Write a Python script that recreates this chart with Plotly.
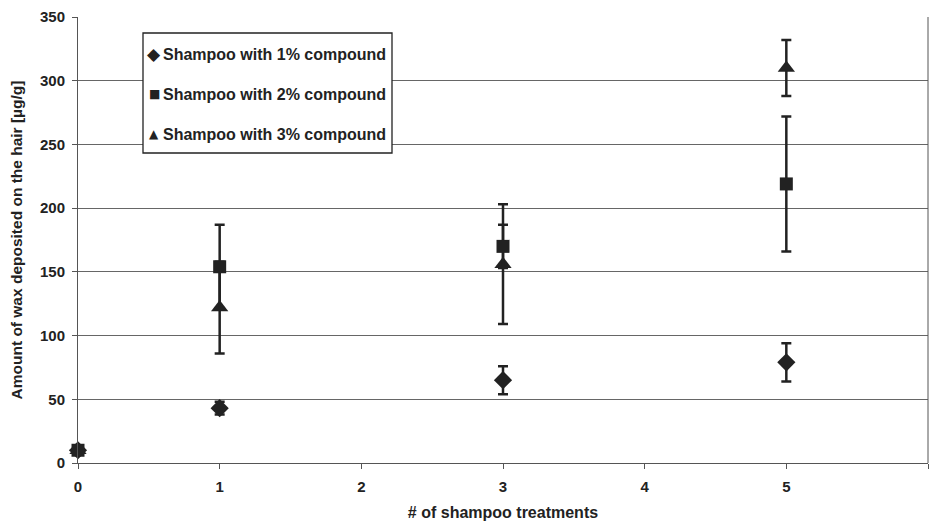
import plotly.graph_objects as go

treatments = [0, 1, 3, 5]
names = ["Shampoo with 1% compound", "Shampoo with 2% compound", "Shampoo with 3% compound"]
wax_1pct = [10, 43, 65, 79]
err_1pct = [0, 5, 11, 15]
wax_2pct = [10, 154, 170, 219]
err_2pct = [0, 33, 17, 53]
wax_3pct = [10, 122, 156, 310]
err_3pct = [0, 36, 47, 22]

y_ticks = [0, 50, 100, 150, 200, 250, 300, 350]
x_ticks = [0, 1, 2, 3, 4, 5, 6]
legend_glyphs = ["◆", "■", "▲"]
glyph_sizes = [17, 12, 12]

dark = "#222222"
font_b = "Liberation Sans"
series = [
    (wax_1pct, err_1pct, "diamond", 14),
    (wax_3pct, err_3pct, "triangle-up", 15),
    (wax_2pct, err_2pct, "square", 13),
]

fig = go.Figure()
for vals, errs, sym, size in series:
    fig.add_trace(go.Scatter(
        x=treatments, y=vals, mode="markers", showlegend=False, cliponaxis=False,
        marker=dict(symbol=sym, size=size, color=dark, line=dict(width=0)),
        error_y=dict(type="data", array=errs, visible=True, color=dark, thickness=2.5, width=5),
    ))

fig.update_layout(
    width=930, height=521,
    margin=dict(l=78, r=2, t=17, b=58, autoexpand=False),
    paper_bgcolor="white", plot_bgcolor="white",
    font=dict(family=font_b, size=15, color=dark),
    showlegend=False,
    xaxis=dict(
        range=[0, 6], tickvals=x_ticks, ticktext=[f"<b>{v}</b>" for v in x_ticks],
        showgrid=False, zeroline=False, showline=True, linecolor="#555", linewidth=1,
        ticks="outside", ticklen=5, tickcolor="#555", ticklabelstandoff=5,
        automargin=False,
        tickfont=dict(family=font_b, size=15, color=dark),
        title=dict(text="<b># of shampoo treatments</b>", standoff=22,
                   font=dict(family=font_b, size=16, color=dark)),
    ),
    yaxis=dict(
        range=[0, 350], tickvals=y_ticks, ticktext=[f"<b>{v}</b>" for v in y_ticks],
        showgrid=True, gridcolor="#666", gridwidth=1,
        zeroline=False, showline=True, linecolor="#555", linewidth=1,
        ticks="outside", ticklen=5, tickcolor="#555", ticklabelstandoff=4,
        automargin=False,
        tickfont=dict(family=font_b, size=15, color=dark),
        title=dict(text="<b>Amount of wax deposited on the hair [µg/g]</b>", standoff=13,
                   font=dict(family=font_b, size=15.5, color=dark)),
    ),
)
# right border of plot area
fig.add_shape(type="line", xref="paper", yref="paper", x0=1, x1=1, y0=0, y1=1,
              line=dict(color="#555", width=1))

# legend box
fig.add_shape(type="rect", xref="paper", yref="paper",
              x0=(143 - 78) / 850, x1=(392 - 78) / 850,
              y0=(463 - 153) / 446, y1=(463 - 33) / 446,
              fillcolor="white", line=dict(color=dark, width=1.3), layer="above")
for i, (g, gs, n) in enumerate(zip(legend_glyphs, glyph_sizes, names)):
    yc = (463 - (54 + 40 * i)) / 446
    fig.add_annotation(
        xref="paper", yref="paper", x=(154 - 78) / 850, y=yc,
        xanchor="center", yanchor="middle", showarrow=False,
        text=g, font=dict(family="DejaVu Sans", size=gs, color=dark),
    )
    fig.add_annotation(
        xref="paper", yref="paper", x=(161 - 78) / 850, y=yc,
        xanchor="left", yanchor="middle", showarrow=False,
        text=f"<b>{n}</b>",
        font=dict(family=font_b, size=16, color=dark),
    )

fig.write_html("out.html")
